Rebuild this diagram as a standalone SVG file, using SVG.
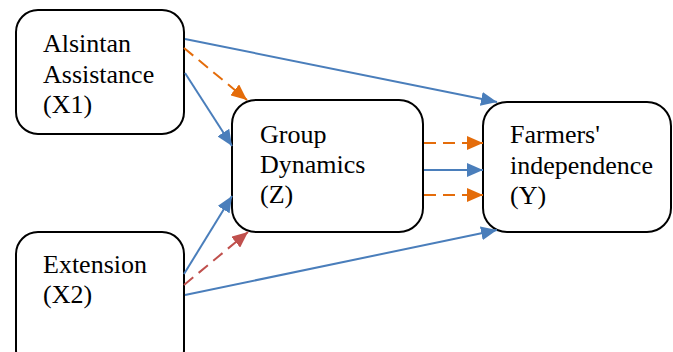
<svg xmlns="http://www.w3.org/2000/svg" width="673" height="352" viewBox="0 0 673 352">
<style>
.box{fill:#fff;stroke:#000;stroke-width:2}
.t{font-family:Liberation Serif,Tinos,Times New Roman,serif;font-size:26px;fill:#000}
.b{stroke:#4A7EBB;stroke-width:2;fill:none}
.o{stroke:#E46C0A;stroke-width:2;fill:none;stroke-dasharray:12 7}
.r{stroke:#C0504D;stroke-width:2;fill:none;stroke-dasharray:12 7}
</style>
<defs>
<marker id="mb" markerUnits="userSpaceOnUse" markerWidth="16" markerHeight="14" refX="16" refY="7" orient="auto"><path d="M0,0 L16,7 L0,14 z" fill="#4A7EBB"/></marker>
<marker id="mo" markerUnits="userSpaceOnUse" markerWidth="16" markerHeight="14" refX="16" refY="7" orient="auto"><path d="M0,0 L16,7 L0,14 z" fill="#E46C0A"/></marker>
<marker id="mr" markerUnits="userSpaceOnUse" markerWidth="16" markerHeight="14" refX="16" refY="7" orient="auto"><path d="M0,0 L16,7 L0,14 z" fill="#C0504D"/></marker>
</defs>
<g id="X1">
<rect class="box" x="16" y="10" width="168" height="124" rx="22"/>
<text class="t" font-family="Liberation Serif, serif" x="43" y="52">Alsintan</text>
<text class="t" font-family="Liberation Serif, serif" x="43" y="83">Assistance</text>
<text class="t" font-family="Liberation Serif, serif" x="43" y="113">(X1)</text>
</g>
<g id="X2">
<rect class="box" x="16" y="232" width="168" height="140" rx="22"/>
<text class="t" font-family="Liberation Serif, serif" x="43" y="273">Extension</text>
<text class="t" font-family="Liberation Serif, serif" x="43" y="303">(X2)</text>
</g>
<g id="Z">
<rect class="box" x="232" y="100" width="191" height="132" rx="24"/>
<text class="t" font-family="Liberation Serif, serif" x="260" y="143">Group</text>
<text class="t" font-family="Liberation Serif, serif" x="260" y="173">Dynamics</text>
<text class="t" font-family="Liberation Serif, serif" x="260" y="203">(Z)</text>
</g>
<g id="Y">
<rect class="box" x="483" y="102" width="188" height="130" rx="24"/>
<text class="t" font-family="Liberation Serif, serif" x="510" y="143">Farmers'</text>
<text class="t" font-family="Liberation Serif, serif" x="510" y="174">independence</text>
<text class="t" font-family="Liberation Serif, serif" x="510" y="204">(Y)</text>
</g>
<g id="connectors">
<line class="b" x1="185" y1="39" x2="497" y2="102" marker-end="url(#mb)"/>
<line class="o" x1="184" y1="48" x2="247" y2="100" marker-end="url(#mo)"/>
<line class="b" x1="185" y1="73" x2="232" y2="146" marker-end="url(#mb)"/>
<line class="b" x1="184" y1="274" x2="232" y2="196" marker-end="url(#mb)"/>
<line class="r" x1="184" y1="285" x2="248" y2="232" marker-end="url(#mr)"/>
<line class="b" x1="185" y1="295" x2="497" y2="230" marker-end="url(#mb)"/>
<line class="o" x1="424" y1="143" x2="483" y2="143" marker-end="url(#mo)"/>
<line class="b" x1="424" y1="170" x2="483" y2="170" marker-end="url(#mb)"/>
<line class="o" x1="424" y1="195" x2="483" y2="195" marker-end="url(#mo)"/>
</g>
</svg>
